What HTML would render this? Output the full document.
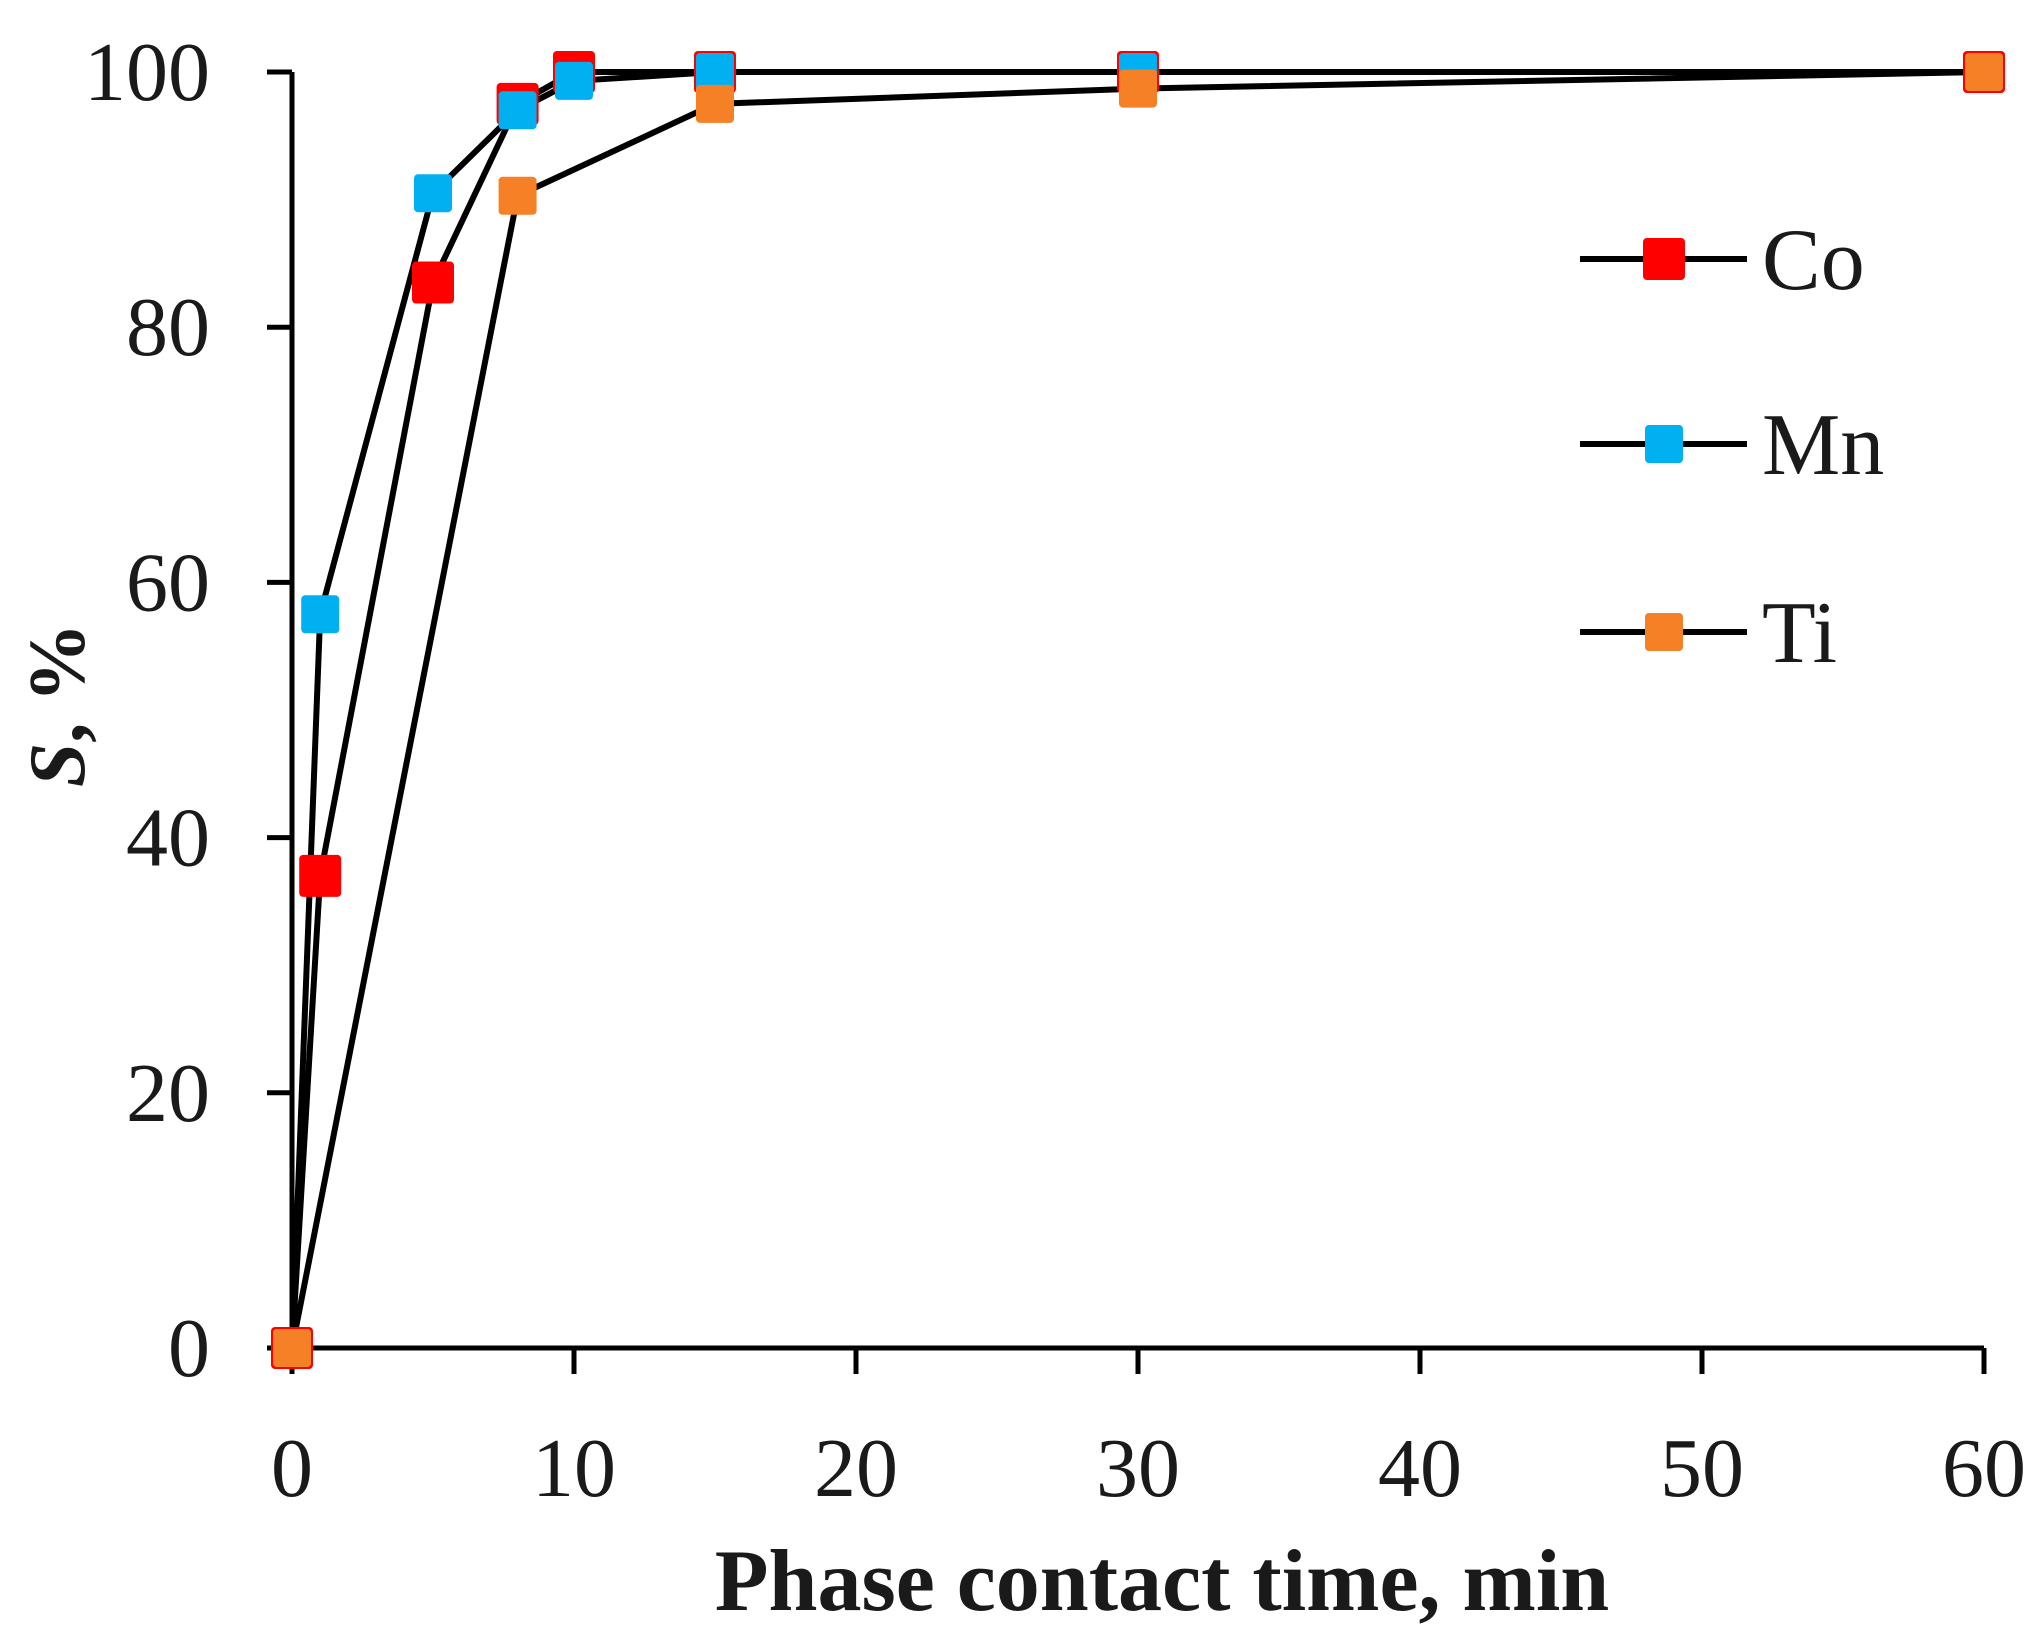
<!DOCTYPE html>
<html><head><meta charset="utf-8"><style>
html,body{margin:0;padding:0;background:#fff;}
svg{display:block;}
text{font-family:"Liberation Serif",serif;fill:#1a1a1a;}
</style></head><body>
<svg id="chart" width="2037" height="1644" viewBox="0 0 2037 1644">
<g id="axes"></g><g id="series"></g><g id="legend"></g>
</svg>
<script>
const xTicks=[0,10,20,30,40,50,60];
const yTicks=[0,20,40,60,80,100];
const coX=[0,1,5,8,10,15,30,60];
const coY=[0,37,83.5,97.5,100,100,100,100];
const mnX=[0,1,5,8,10,15,30,60];
const mnY=[0,57.5,90.5,97,99.3,100,100,100];
const tiX=[0,8,15,30,60];
const tiY=[0,90.3,97.5,98.7,100];
const seriesNames=["Co","Mn","Ti"];

const NS="http://www.w3.org/2000/svg";
const X0=292,X1=1984,Y0=1348,Y1=72;
const sx=v=>X0+(v-0)/(60-0)*(X1-X0);
const sy=v=>Y0-(v-0)/(100-0)*(Y0-Y1);
function mk(tag,attrs,parent,txt){const e=document.createElementNS(NS,tag);for(const k in attrs)e.setAttribute(k,attrs[k]);if(txt!==undefined)e.textContent=txt;parent.appendChild(e);return e;}
const axes=document.getElementById('axes'),ser=document.getElementById('series'),leg=document.getElementById('legend');

let e=mk('line',{x1:X0,y1:Y1,x2:X0,y2:Y0,stroke:'#000','stroke-width':5},axes);


e=mk('line',{x1:X0,y1:Y0,x2:X1,y2:Y0,stroke:'#000','stroke-width':5},axes);


yTicks.forEach(v=>{
  let t=mk('line',{x1:X0-25,y1:sy(v),x2:X0,y2:sy(v),stroke:'#000','stroke-width':5},axes);
  
  
  let l=mk('text',{x:210,y:sy(v)+28,'text-anchor':'end','font-size':84},axes,String(v));
  
  
});
xTicks.forEach(v=>{
  let t=mk('line',{x1:sx(v),y1:Y0,x2:sx(v),y2:Y0+26,stroke:'#000','stroke-width':5},axes);
  
  
  let l=mk('text',{x:sx(v),y:1496,'text-anchor':'middle','font-size':84},axes,String(v));
  
  
});
e=mk('text',{x:1162,y:1610,'text-anchor':'middle','font-size':88,'font-weight':'bold'},axes,'Phase contact time, min');


e=mk('text',{x:0,y:0,'text-anchor':'middle','font-size':80,'font-weight':'bold',transform:'translate(84,705) rotate(-90)'},axes);


mk('tspan',{'font-style':'italic'},e,'S');mk('tspan',{},e,', %');

const all=[[coX,coY,'#ff0000',42,'co'],[mnX,mnY,'#00b0f0',38,'mn'],[tiX,tiY,'#f58025',38,'ti']];
all.forEach(([xs,ys,c,s,n])=>{
  let p=mk('polyline',{points:xs.map((x,i)=>sx(x)+','+sy(ys[i])).join(' '),fill:'none',stroke:'#000','stroke-width':6,'stroke-linejoin':'round'},ser);
  
  
});
all.forEach(([xs,ys,c,s,n])=>{
  xs.forEach((x,i)=>{
    let r=mk('rect',{x:sx(x)-s/2,y:sy(ys[i])-s/2,width:s,height:s,rx:4,fill:c},ser);
    
    
  });
});
const ly=[259,444,632];
all.forEach(([xs,ys,c,s,n],i)=>{
  let l=mk('line',{x1:1580,y1:ly[i],x2:1747,y2:ly[i],stroke:'#000','stroke-width':6},leg);
  
  
  let r=mk('rect',{x:1664-s/2,y:ly[i]-s/2,width:s,height:s,rx:4,fill:c},leg);
  
  
  let t=mk('text',{x:1762,y:ly[i]+30,'font-size':88},leg,seriesNames[i]);
  
  
});
</script>
</body></html>
